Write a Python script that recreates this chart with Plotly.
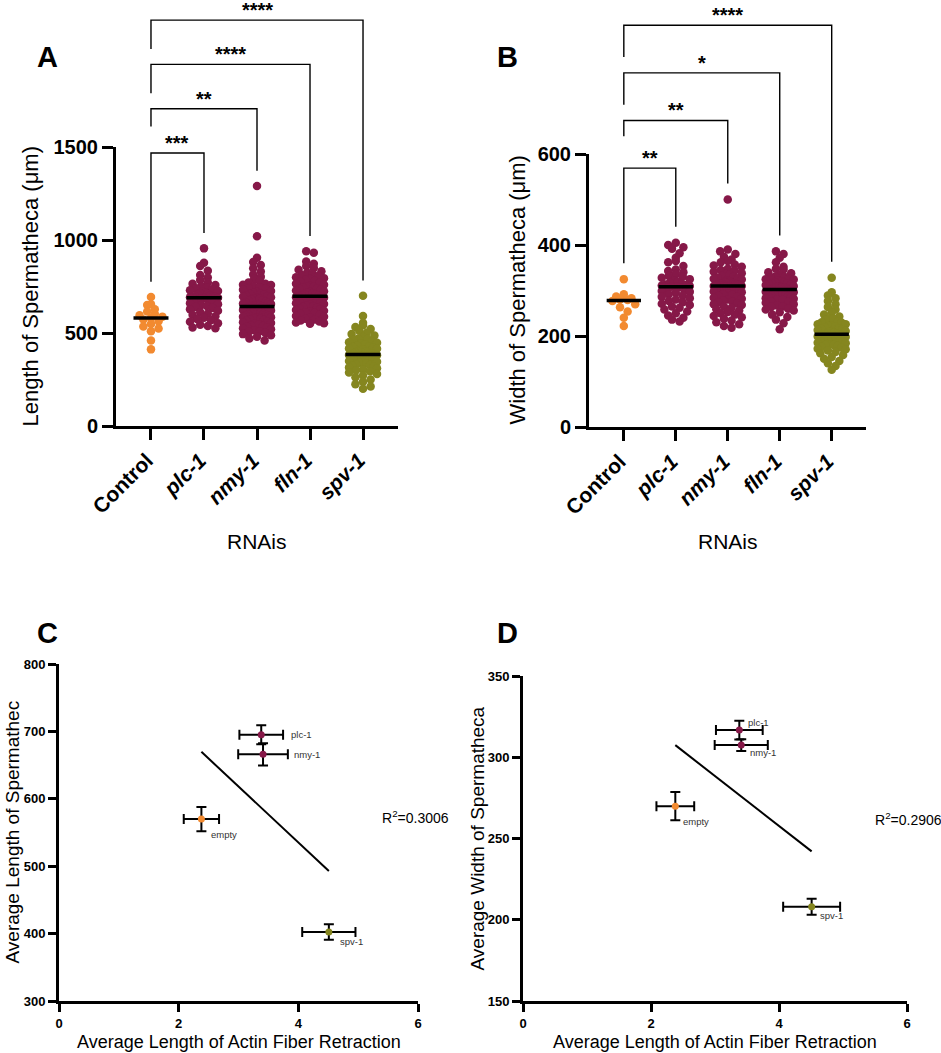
import numpy as np
import plotly.graph_objects as go

W, H = 941, 1053
FONT = "Liberation Sans, Arial, sans-serif"

# ---------------- data ----------------
groups = ["Control", "plc-1", "nmy-1", "fln-1", "spv-1"]
group_ticks = ["Control", "<i>plc-1</i>", "<i>nmy-1</i>", "<i>fln-1</i>", "<i>spv-1</i>"]
group_colors = ["#F28A30", "#861848", "#861848", "#861848", "#85861F"]

# length of spermatheca (um)
ctrl_len = [694, 655, 650, 628, 615, 602, 596, 588, 580, 572, 563, 548, 535, 524, 510, 460, 412]
plc_len = [955, 878, 860, 835, 812, 798, 785, 772, 765, 758, 752, 745, 740, 735, 730, 726,
           722, 718, 714, 710, 706, 702, 699, 696, 694, 693, 692, 690, 688, 685, 682, 678,
           674, 670, 665, 660, 655, 650, 645, 640, 635, 628, 620, 612, 605, 598, 590, 582,
           575, 568, 560, 552, 545, 538, 530, 526]
nmy_len = [1290, 1020, 905, 882, 865, 848, 830, 815, 802, 790, 780, 772, 765, 760, 758, 750,
           744, 740, 738, 732, 726, 720, 715, 712, 710, 705, 700, 698, 696, 692, 688, 686,
           684, 680, 676, 672, 668, 665, 662, 659, 656, 653, 650, 648, 646, 644, 643, 642,
           640, 638, 636, 634, 632, 630, 627, 624, 621, 618, 615, 612, 609, 606, 603, 600,
           597, 594, 591, 588, 585, 582, 579, 576, 573, 570, 566, 562, 558, 554, 550, 546,
           542, 538, 534, 530, 525, 520, 515, 510, 505, 500, 494, 488, 480, 470, 460]
fln_len = [940, 932, 885, 872, 860, 850, 840, 832, 825, 818, 812, 806, 800, 795, 790, 785,
           780, 775, 770, 765, 760, 756, 752, 748, 744, 740, 736, 732, 728, 724, 720, 716,
           712, 708, 705, 702, 699, 697, 695, 692, 689, 686, 683, 680, 676, 672, 668, 664,
           660, 656, 652, 648, 644, 640, 636, 632, 628, 624, 620, 616, 612, 607, 602, 597,
           592, 587, 582, 577, 572, 567, 562, 557, 553, 550]
spv_len = [700, 592, 555, 542, 532, 522, 512, 502, 494, 486, 478, 470, 468, 463, 456, 450,
           448, 444, 438, 432, 427, 425, 422, 417, 415, 412, 408, 404, 402, 400, 397, 394,
           391, 390, 388, 386, 384, 382, 380, 378, 376, 374, 372, 370, 367, 364, 361, 358,
           355, 352, 349, 346, 343, 340, 336, 332, 328, 324, 320, 315, 310, 305, 300, 294,
           288, 280, 272, 262, 250, 238, 225, 212, 200]

# width of spermatheca (um)
ctrl_wid = [325, 292, 287, 283, 280, 279, 277, 270, 263, 254, 240, 222]
plc_wid = [405, 400, 395, 392, 382, 372, 365, 362, 354, 346, 343, 340, 336, 332, 330, 328,
           325, 322, 319, 317, 315, 313, 312, 311, 310, 309, 309, 308, 307, 306, 305, 303,
           301, 299, 297, 295, 292, 289, 286, 283, 280, 277, 274, 271, 268, 265, 262, 258,
           254, 250, 245, 240, 236, 232]
nmy_wid = [500, 390, 386, 380, 374, 368, 365, 362, 357, 355, 352, 348, 345, 344, 341, 338,
           336, 335, 332, 330, 328, 327, 326, 324, 322, 321, 320, 319, 318, 317, 316, 316,
           315, 314, 314, 313, 312, 312, 311, 311, 310, 310, 309, 309, 308, 307, 306, 305,
           304, 303, 302, 300, 298, 296, 294, 292, 290, 288, 286, 284, 282, 280, 278, 276,
           274, 272, 270, 268, 265, 262, 259, 256, 253, 250, 247, 244, 241, 238, 234, 230,
           226, 222, 218]
fln_wid = [386, 380, 372, 362, 352, 348, 346, 340, 338, 335, 331, 330, 328, 326, 325, 324,
           322, 320, 318, 318, 316, 316, 314, 312, 312, 310, 309, 308, 308, 307, 306, 306,
           305, 304, 303, 302, 301, 300, 299, 298, 297, 296, 295, 293, 292, 291, 289, 288,
           287, 285, 285, 283, 282, 280, 279, 276, 275, 273, 270, 267, 265, 264, 260, 258,
           256, 252, 247, 242, 236, 228, 215]
spv_wid = [328, 296, 289, 283, 277, 270, 264, 258, 252, 247, 243, 239, 238, 235, 232, 230,
           229, 226, 226, 223, 222, 221, 219, 217, 216, 215, 213, 211, 210, 209, 207, 206,
           205, 204, 204, 203, 202, 201, 200, 199, 198, 196, 195, 194, 192, 190, 190, 188,
           186, 185, 184, 182, 180, 180, 178, 176, 174, 172, 171, 168, 165, 162, 158, 154,
           150, 145, 140, 134, 126]

length_data = [ctrl_len, plc_len, nmy_len, fln_len, spv_len]
width_data = [ctrl_wid, plc_wid, nmy_wid, fln_wid, spv_wid]
length_sig = ["***", "**", "****", "****"]
width_sig = ["**", "**", "*", "****"]

# averages vs actin fiber retraction
pt_labels = ["empty", "plc-1", "nmy-1", "spv-1"]
pt_colors = ["#F28A30", "#861848", "#861848", "#85861F"]
retraction = [2.38, 3.38, 3.41, 4.51]
retraction_err = [0.295, 0.365, 0.415, 0.445]
avg_len = [570, 695, 666, 402.5]
avg_len_err = [18, 14, 16.5, 11.5]
avg_wid = [269.9, 316.7, 307.5, 208.0]
avg_wid_err = [8.7, 5.7, 3.6, 4.9]
r2_len = "R<sup>2</sup>=0.3006"
r2_wid = "R<sup>2</sup>=0.2906"


# ---------------- helpers ----------------
def xdom(a, b):
    return [a / W, b / W]


def ydom(top, bottom):
    return [1 - bottom / H, 1 - top / H]


def swarm(vals, unit_px, cat_px, diam=8.0, half=14.0):
    v = np.asarray(vals, float)
    order = np.argsort(-v)
    rows = np.floor(v[order] * unit_px / (0.8 * diam))
    off = np.zeros(len(v))
    for r in np.unique(rows):
        idx = order[rows == r]
        k = len(idx)
        if k < 2:
            continue
        s = min(0.95 * diam, 2 * half / (k - 1))
        pos = (np.arange(k) - (k - 1) / 2) * s
        slots = sorted(range(k), key=lambda j: (abs(j - (k - 1) / 2), j))
        for n, i in enumerate(idx):
            off[i] = pos[slots[n]]
    return off / cat_px


fig = go.Figure()

# panel geometry (px)
A = dict(x0=116, x1=398, y0=426, y1=147, top=1500, xr=[-0.66, 4.66])
B = dict(x0=589, x1=866, y0=427, y1=154, top=600, xr=[-0.67, 4.66])


def scatter_panel(data, sig, g, xa, ya, ba, first_top, step, gap, leg_frac):
    unit_px = (g["y0"] - g["y1"]) / g["top"]
    cat_px = (g["x1"] - g["x0"]) / (g["xr"][1] - g["xr"][0])
    for i, vals in enumerate(data):
        off = swarm(vals, unit_px, cat_px)
        fig.add_trace(go.Scatter(
            x=i + off, y=vals, mode="markers", xaxis=xa, yaxis=ya,
            marker=dict(size=8.5, color=group_colors[i], line=dict(width=0)),
            showlegend=False, hoverinfo="y"))
        med = float(np.median(vals))
        fig.add_trace(go.Scatter(
            x=[i - 0.33, i + 0.33], y=[med, med], mode="lines", xaxis=xa, yaxis=ya,
            line=dict(color="black", width=3.5), showlegend=False, hoverinfo="skip"))
    for k in range(1, 5):
        top = first_top + (k - 1) * step
        if k == 1:
            left = max(data[0]) + gap
        else:
            left = top - leg_frac[k - 1] * step
        right = max(data[k]) + gap
        fig.add_trace(go.Scatter(
            x=[0, 0, k, k], y=[left, top, top, right], mode="lines", xaxis=xa, yaxis=ba,
            line=dict(color="black", width=1.4), showlegend=False, hoverinfo="skip"))
        fig.add_annotation(x=k / 2, y=top, xref=xa, yref=ba, text="<b>%s</b>" % sig[k - 1],
                           showarrow=False, yanchor="bottom", yshift=-3,
                           font=dict(size=20, color="black", family=FONT))


scatter_panel(length_data, length_sig, A, "x", "y", "y5", 1468, 238, 82, [None, 0.40, 0.65, 0.65])
scatter_panel(width_data, width_sig, B, "x2", "y2", "y6", 569, 104.7, 35, [None, 0.33, 0.67, 0.67])


def regression_panel(yvals, yerr, xa, ya, offsets):
    fig.add_trace(go.Scatter(
        x=retraction, y=yvals, mode="markers", xaxis=xa, yaxis=ya,
        marker=dict(size=7, color=pt_colors),
        error_x=dict(type="data", array=retraction_err, color="black", thickness=2, width=5),
        error_y=dict(type="data", array=yerr, color="black", thickness=2, width=5),
        showlegend=False))
    slope, icpt = np.polyfit(retraction, yvals, 1)
    xs = np.array([min(retraction), max(retraction)])
    fig.add_trace(go.Scatter(
        x=xs, y=slope * xs + icpt, mode="lines", xaxis=xa, yaxis=ya,
        line=dict(color="black", width=2), showlegend=False, hoverinfo="skip"))
    for i, lab in enumerate(pt_labels):
        dx, dy = offsets[i]
        fig.add_annotation(x=retraction[i], y=yvals[i], xref=xa, yref=ya, text=lab,
                           showarrow=False, xanchor="left", yanchor="middle",
                           xshift=dx, yshift=dy, font=dict(size=9.5, color="#333", family=FONT))


regression_panel(avg_len, avg_len_err, "x3", "y3", [(8, -15), (28, 0), (29, 0), (9, -10)])
regression_panel(avg_wid, avg_wid_err, "x4", "y4", [(6, -15), (7, 8), (7, -7), (6, -9)])

fig.add_annotation(x=5.36, y=573, xref="x3", yref="y3", text=r2_len, showarrow=False,
                   xanchor="left", yanchor="middle", font=dict(size=14, color="black", family=FONT))
fig.add_annotation(x=5.47, y=262, xref="x4", yref="y4", text=r2_wid, showarrow=False,
                   xanchor="left", yanchor="middle", font=dict(size=14, color="black", family=FONT))

# panel letters
for letter, px, py in [("A", 47, 57), ("B", 508, 57), ("C", 47, 633), ("D", 508, 633)]:
    fig.add_annotation(x=px / W, y=1 - py / H, xref="paper", yref="paper",
                       text="<b>%s</b>" % letter, showarrow=False,
                       xanchor="center", yanchor="middle",
                       font=dict(size=29, color="black", family=FONT))

# axis titles (placed as annotations so they sit where the original has them)
x_titles = [("x", "RNAis", 541, 21), ("x2", "RNAis", 541, 21),
            ("x3", "Average Length of Actin Fiber Retraction", 1042, 18),
            ("x4", "Average Length of Actin Fiber Retraction", 1042, 18)]
for xa, txt, py, sz in x_titles:
    fig.add_annotation(x=0.5, y=1 - py / H, xref=xa + " domain", yref="paper", text=txt,
                       showarrow=False, xanchor="center", yanchor="middle",
                       font=dict(size=sz, color="black", family=FONT))
y_titles = [("y", "Length of Spermatheca (μm)", 30, 22), ("y2", "Width of Spermatheca (μm)", 517, 22),
            ("y3", "Average Length of Spermathec", 12, 19), ("y4", "Average Width of Spermatheca", 477, 19)]
for ya, txt, px, sz in y_titles:
    fig.add_annotation(x=px / W, y=0.5, xref="paper", yref=ya + " domain", text=txt,
                       textangle=-90, showarrow=False, xanchor="center", yanchor="middle",
                       font=dict(size=sz, color="black", family=FONT))

axis_common = dict(showline=True, linecolor="black", linewidth=3, ticks="outside",
                   tickcolor="black", tickwidth=3, showgrid=False, zeroline=False,
                   automargin=False)
cat_x = dict(axis_common, tickvals=list(range(5)), ticktext=group_ticks, tickangle=-45,
             ticklen=11, ticklabelshift=-4,
             tickfont=dict(size=21, weight="bold", color="black", family=FONT))
big_y = dict(axis_common, ticklen=11,
             tickfont=dict(size=20, weight="bold", color="black", family=FONT))
small = dict(axis_common, ticklen=8,
             tickfont=dict(size=13, weight="bold", color="black", family=FONT))

fig.update_layout(
    width=W, height=H, margin=dict(l=0, r=0, t=0, b=0, autoexpand=False),
    paper_bgcolor="white", plot_bgcolor="rgba(0,0,0,0)",
    font=dict(family=FONT, color="black"),
    xaxis=dict(cat_x, domain=xdom(A["x0"], A["x1"]), range=A["xr"], anchor="y"),
    yaxis=dict(big_y, domain=ydom(A["y1"], A["y0"]), range=[0, 1500],
               tickvals=[0, 500, 1000, 1500], anchor="x"),
    xaxis2=dict(cat_x, domain=xdom(B["x0"], B["x1"]), range=B["xr"], anchor="y2"),
    yaxis2=dict(big_y, domain=ydom(B["y1"], B["y0"]), range=[0, 600],
                tickvals=[0, 200, 400, 600], anchor="x2"),
    yaxis5=dict(domain=ydom(0, A["y0"]), range=[0, A["y0"] * A["top"] / (A["y0"] - A["y1"])],
                anchor="x", visible=False, automargin=False),
    yaxis6=dict(domain=ydom(0, B["y0"]), range=[0, B["y0"] * B["top"] / (B["y0"] - B["y1"])],
                anchor="x2", visible=False, automargin=False),
    xaxis3=dict(small, domain=xdom(59, 418), range=[0, 6], tickvals=[0, 2, 4, 6], anchor="y3"),
    yaxis3=dict(small, domain=ydom(664, 1001), range=[300, 800],
                tickvals=[300, 400, 500, 600, 700, 800], anchor="x3"),
    xaxis4=dict(small, domain=xdom(523, 907), range=[0, 6], tickvals=[0, 2, 4, 6], anchor="y4"),
    yaxis4=dict(small, domain=ydom(676, 1001), range=[150, 350],
                tickvals=[150, 200, 250, 300, 350], anchor="x4"),
)

# the page's default body margin would shift the whole figure by 8px
fig.write_html("out.html", config={"displayModeBar": False},
               post_script="document.body.style.margin='0';")
